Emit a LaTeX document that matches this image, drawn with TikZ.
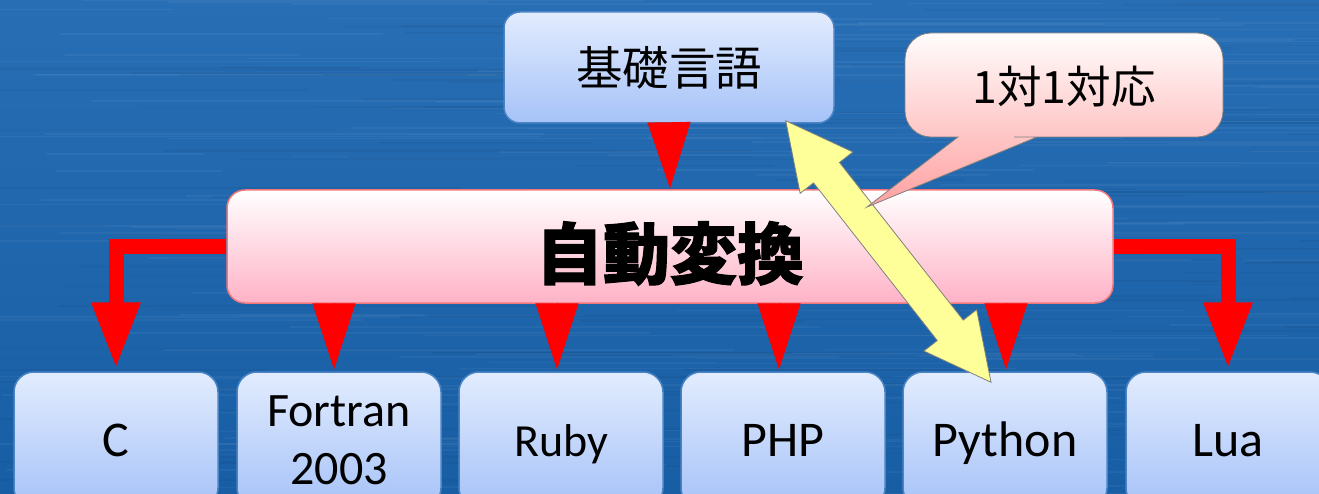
\documentclass[tikz,border=0pt]{standalone}
\usepackage{fontspec}
\setmainfont{Carlito}
\newfontfamily\cjk[BoldFeatures={FakeBold=1.6}]{Noto Sans CJK JP}
\usetikzlibrary{calc,arrows.meta}

\definecolor{bgtop}{RGB}{40,110,180}
\definecolor{bgbot}{RGB}{24,94,164}
\definecolor{lbtop}{RGB}{226,236,254}
\definecolor{lbbot}{RGB}{166,194,248}
\definecolor{lbdraw}{RGB}{74,132,196}
\definecolor{pkbot}{RGB}{255,178,198}
\definecolor{pkdraw}{RGB}{240,120,125}
\definecolor{cotop}{RGB}{255,252,252}
\definecolor{cobot}{RGB}{255,160,160}
\definecolor{yel}{RGB}{255,255,153}
\definecolor{grayline}{RGB}{128,128,128}

\tikzset{
  langbox/.style={draw=lbdraw, line width=1.5pt, rounded corners=20pt,
    top color=lbtop, bottom color=lbbot, minimum width=204pt,
    minimum height=136pt, inner sep=0pt, font=\fontsize{50}{58}\selectfont},
  oneline/.style={text height=32pt, text depth=0pt},
  kisobox/.style={draw=lbdraw, line width=1.5pt, rounded corners=16pt,
    top color=lbtop, bottom color=lbbot, minimum width=330pt,
    minimum height=111pt, inner sep=0pt, font=\cjk\fontsize{46.5}{50}\selectfont},
  transbox/.style={draw=pkdraw, line width=1.5pt, rounded corners=18pt,
    top color=white, bottom color=pkbot, minimum width=886pt,
    minimum height=113pt, inner sep=0pt},
  redline/.style={draw=red, line width=15pt,
    -{Triangle[width=45pt,length=67pt]}},
  redtip/.style={draw=red, fill=red, line width=0.1pt,
    -{Triangle[width=43pt,length=66pt]}},
  yarrow/.style={draw=grayline, line width=0.8pt, fill=yel, line join=miter},
  callout/.style={draw=grayline, line width=0.8pt, top color=cotop, bottom color=cobot},
}

\begin{document}
\begin{tikzpicture}[x=1pt,y=-1pt]
\useasboundingbox (0,0) rectangle (1319,494);
\clip (0,0) rectangle (1319,494);
% background
\shade[top color=bgtop, bottom color=bgbot] (0,0) rectangle (1319,494);
\pgfmathsetseed{7}
\foreach \i in {1,...,170}{
  \pgfmathsetmacro\yy{rnd*494}
  \pgfmathsetmacro\xx{rnd*1400-100}
  \pgfmathsetmacro\ll{150+rnd*500}
  \draw[white, opacity=0.045, line width=1.6pt] (\xx,\yy) -- ++(\ll,0);
}
\foreach \i in {1,...,120}{
  \pgfmathsetmacro\yy{rnd*494}
  \pgfmathsetmacro\xx{rnd*1400-100}
  \pgfmathsetmacro\ll{150+rnd*500}
  \draw[black, opacity=0.04, line width=1.6pt] (\xx,\yy) -- ++(\ll,0);
}

% nodes
\node[kisobox] (kiso) at (669,67.5) {基礎言語};
\node[transbox] (trans) at (670,246.5) {};
\node[font=\cjk\bfseries\fontsize{67}{70}\selectfont] (transT) at ($(trans.center)+(0,7)$) {自動変換};

\node[langbox, oneline] (c) at (116,440) {C};
\node[langbox, align=center, font=\fontsize{48}{58}\selectfont] (fortran) at (339,440) {Fortran\\2003};
\node[langbox, oneline, font=\fontsize{46}{50}\selectfont] (ruby) at (561,440) {Ruby};
\node[langbox, oneline] (php) at (783,440) {PHP};
\node[langbox, oneline] (python) at (1005,440) {Python};
\node[langbox, oneline] (lua) at (1228,440) {Lua};

% red connectors
\draw[redtip] ($(kiso.south)+(0,0)$) -- ($(trans.north)+(0,-1)$);
\draw[redline] (trans.west) -| ($(c.north)+(0,-2)$);
\draw[redline] (trans.east) -| ($(lua.north)+(0,-2)$);
\draw[redtip] ($(fortran.north |- trans.south)+(-5,0)$) -- ($(fortran.north)+(-5,-2)$);
\draw[redtip] ($(ruby.north |- trans.south)+(-4,0)$) -- ($(ruby.north)+(-4,-2)$);
\draw[redtip] ($(php.north |- trans.south)+(-4,0)$) -- ($(php.north)+(-4,-2)$);
\draw[redtip] ($(python.north |- trans.south)+(1,0)$) -- ($(python.north)+(1,-2)$);

% yellow double arrow
\coordinate (ya) at ($(kiso.south east)+(-49,-3)$);
\coordinate (yb) at ($(python.north)+(-14,11)$);
\coordinate (ha) at ($(ya)!66pt!(yb)$);
\coordinate (hb) at ($(yb)!66pt!(ya)$);
\draw[yarrow] (ya) -- ($(ha)!33.5pt!90:(yb)$) -- ($(ha)!16.5pt!90:(yb)$)
  -- ($(hb)!16.5pt!-90:(ya)$) -- ($(hb)!33.5pt!-90:(ya)$) -- (yb)
  -- ($(hb)!33.5pt!90:(ya)$) -- ($(hb)!16.5pt!90:(ya)$)
  -- ($(ha)!16.5pt!-90:(yb)$) -- ($(ha)!33.5pt!-90:(yb)$) -- cycle;

% callout
\coordinate (ctip) at (867,207);
\draw[callout] (905,85) [rounded corners=26pt] -- (905,33) -- (1223,33) -- (1223,137)
  -- (1040,137) [sharp corners] -- (1037,137) -- (ctip) -- (958,137) -- (957,137)
  [rounded corners=26pt] -- (905,137) -- cycle;
\node[font=\cjk\fontsize{44.6}{48}\selectfont] (oneone) at (1064,87) {1対1対応};
\end{tikzpicture}
\end{document}
